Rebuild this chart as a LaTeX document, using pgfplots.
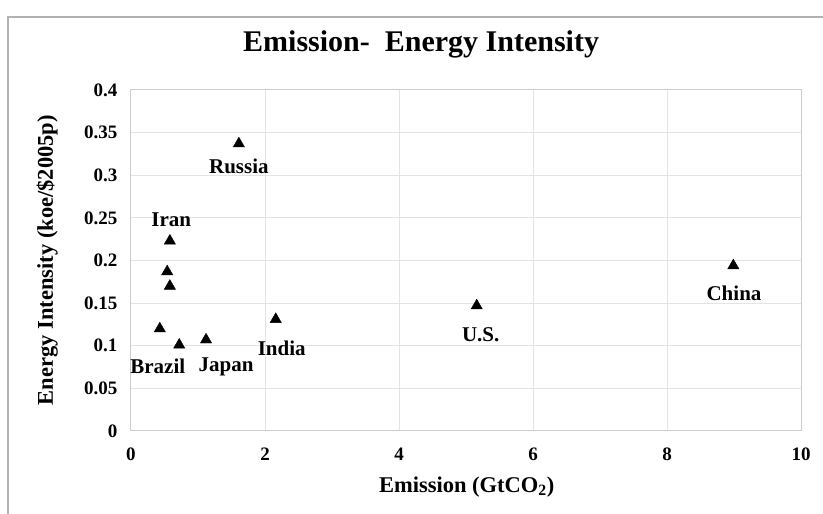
\documentclass[border=0pt]{standalone}
\usepackage{fontspec}
\setmainfont{Liberation Serif}
\usepackage{pgfplots}
\pgfplotsset{compat=1.18}
\begin{document}
\begin{tikzpicture}[x=1pt,y=1pt]
\useasboundingbox (0,0) rectangle (823,514);
% outer chart frame
\draw[gray!60, line width=1.5pt] (8,-5) -- (8,497) -- (830,497);
\begin{axis}[
    at={(131pt,83pt)}, anchor=south west,
    width=670pt, height=341pt, scale only axis,
    xmin=0, xmax=10, ymin=0, ymax=0.4,
    xtick={0,2,4,6,8,10},
    xticklabels={0,2,4,6,8,10},
    ytick={0,0.05,0.1,0.15,0.2,0.25,0.3,0.35,0.4},
    yticklabels={0,0.05,0.1,0.15,0.2,0.25,0.3,0.35,0.4},
    major tick length=0pt,
    grid=major,
    grid style={gray!22, line width=1pt},
    axis line style={gray!40, line width=1pt},
    tick label style={font=\fontsize{19}{19}\selectfont\bfseries},
    xticklabel style={yshift=-13pt},
    yticklabel style={xshift=-10pt},
    title={Emission- \ Energy Intensity},
    title style={at={(0.433,1.117)}, anchor=center, font=\fontsize{30}{30}\selectfont\bfseries},
    xlabel={Emission (GtCO\textsubscript{2})},
    xlabel style={at={(0.501,-0.164)}, anchor=center, font=\fontsize{22.5}{22.5}\selectfont\bfseries},
    ylabel={Energy Intensity (koe/\$2005p)},
    ylabel style={at={(-0.125,0.501)}, anchor=center, font=\fontsize{22.5}{22.5}\selectfont\bfseries},
]
\addplot[only marks, mark=triangle*, mark size=6.5pt, black] coordinates {
    (1.61,0.337) (0.58,0.223) (0.54,0.187) (0.58,0.170) (0.43,0.120)
    (0.72,0.101) (1.12,0.107) (2.16,0.131) (5.16,0.147) (8.99,0.194)
};
\begin{scope}[every node/.style={font=\fontsize{21}{21}\selectfont\bfseries}]
\node at (axis cs:1.61,0.310) {Russia};
\node at (axis cs:0.60,0.248) {Iran};
\node at (axis cs:0.40,0.076) {Brazil};
\node at (axis cs:1.42,0.075) {Japan};
\node at (axis cs:2.25,0.097) {India};
\node at (axis cs:5.22,0.113) {U.S.};
\node at (axis cs:9.00,0.161) {China};
\end{scope}
\end{axis}
\end{tikzpicture}
\end{document}
